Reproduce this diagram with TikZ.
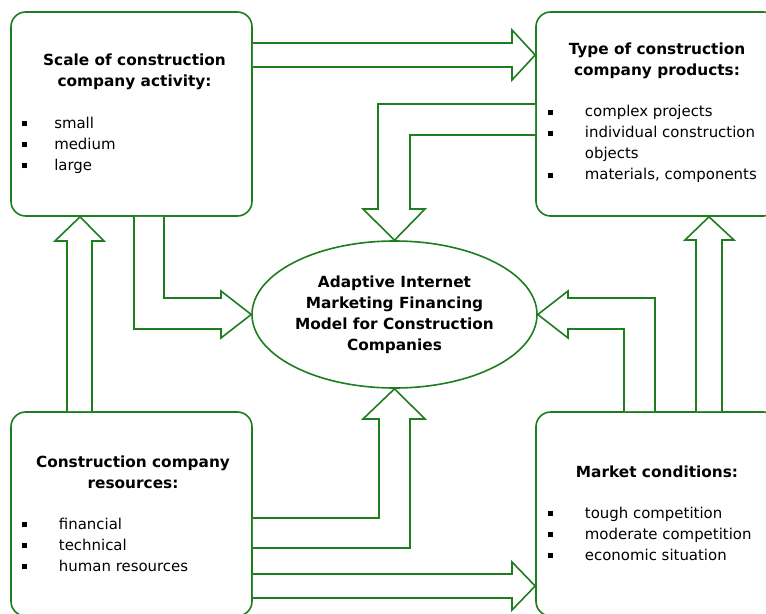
\documentclass[tikz,border=0pt]{standalone}
\usepackage{fontspec}
\setmainfont{DejaVu Sans}
\usetikzlibrary{shapes.geometric, positioning}
\definecolor{modelgreen}{RGB}{30,125,30}
\newcommand{\sqbul}{\rule[1.3pt]{3.8pt}{3.8pt}}

\begin{document}
\begin{tikzpicture}[x=0.75pt, y=-0.75pt,
  box/.style={draw=modelgreen, line width=1.2pt, rounded corners=11pt, fill=white, minimum width=#1, minimum height=153pt},
  blk/.style={draw=modelgreen, line width=1.2pt, fill=white, line join=miter},
  head/.style={font=\fontsize{11.5}{15.75}\selectfont\bfseries, align=center, inner sep=0pt},
  list/.style={font=\fontsize{11.2}{15.75}\selectfont, anchor=base west, inner sep=0pt}]
 \useasboundingbox (0,0) rectangle (766,613);
 \clip (0,0) rectangle (766,613);

 \node[box=180.75pt] (scale) at (131.5,114){};
 \node[box=181.5pt] (prod) at (657,114){};
 \node[box=180.75pt] (res) at (131.5,514){};
 \node[box=181.5pt] (market) at (657,514){};
 \node[ellipse, draw=modelgreen, line width=1.2pt, fill=white, minimum width=213.75pt, minimum height=110.25pt, head] (model) at (394.5,314.5)
   {Adaptive Internet\\Marketing Financing\\Model for Construction\\Companies};

 \node[head] (scalehd) at (134.5,71.5){Scale of construction\\company activity:};
 \node[list] (scalelist) at (22,128){\begin{tabular}[t]{@{}p{24pt}@{}l@{}}
   \sqbul & small\\ \sqbul & medium\\ \sqbul & large\end{tabular}};

 \node[head] (prodhd) at (657,61){Type of construction\\company products:};
 \node[list] (prodlist) at (548,117){\begin{tabular}[t]{@{}p{27.5pt}@{}l@{}}
   \sqbul & complex projects\\ \sqbul & individual construction\\ & objects\\ \sqbul & materials, components\end{tabular}};

 \node[head] (reshd) at (133,472.5){Construction company\\resources:};
 \node[list] (reslist) at (22,529){\begin{tabular}[t]{@{}p{27.5pt}@{}l@{}}
   \sqbul & financial\\ \sqbul & technical\\ \sqbul & human resources\end{tabular}};

 \node[head] (markethd) at (657,472){Market conditions:};
 \node[list] (marketlist) at (548,518){\begin{tabular}[t]{@{}p{27.5pt}@{}l@{}}
   \sqbul & tough competition\\ \sqbul & moderate competition\\ \sqbul & economic situation\end{tabular}};

 \filldraw[blk] (scale.east |- 0,43) -- (512,43) -- (512,30) -- (prod.west |- 0,55) -- (512,80) -- (512,67) -- (scale.east |- 0,67);
 \filldraw[blk] (prod.west |- 0,104) -- (378,104) -- (378,209) -- (363,209) -- (model.north) -- (425,209) -- (410,209) -- (410,135) -- (prod.west |- 0,135);
 \filldraw[blk] (scale.south -| 134,0) -- (134,329) -- (221,329) -- (221,338) -- (model.west) -- (221,291) -- (221,298) -- (164,298) -- (scale.south -| 164,0);
 \filldraw[blk] (res.north -| 67,0) -- (67,241) -- (55,241) -- (scale.south -| 80,0) -- (104,241) -- (92,241) -- (res.north -| 92,0);
 \filldraw[blk] (res.east |- 0,518) -- (379,518) -- (379,419) -- (363,419) -- (model.south) -- (425,419) -- (410,419) -- (410,548) -- (res.east |- 0,548);
 \filldraw[blk] (res.east |- 0,574) -- (512,574) -- (512,562) -- (market.west |- 0,586) -- (512,610) -- (512,598) -- (res.east |- 0,598);
 \filldraw[blk] (market.north -| 624,0) -- (624,329) -- (568,329) -- (568,338) -- (model.east) -- (568,291) -- (568,298) -- (655,298) -- (market.north -| 655,0);
 \filldraw[blk] (market.north -| 696,0) -- (696,240) -- (685,240) -- (prod.south -| 709,0) -- (734,240) -- (722,240) -- (market.north -| 722,0);
\end{tikzpicture}
\end{document}
